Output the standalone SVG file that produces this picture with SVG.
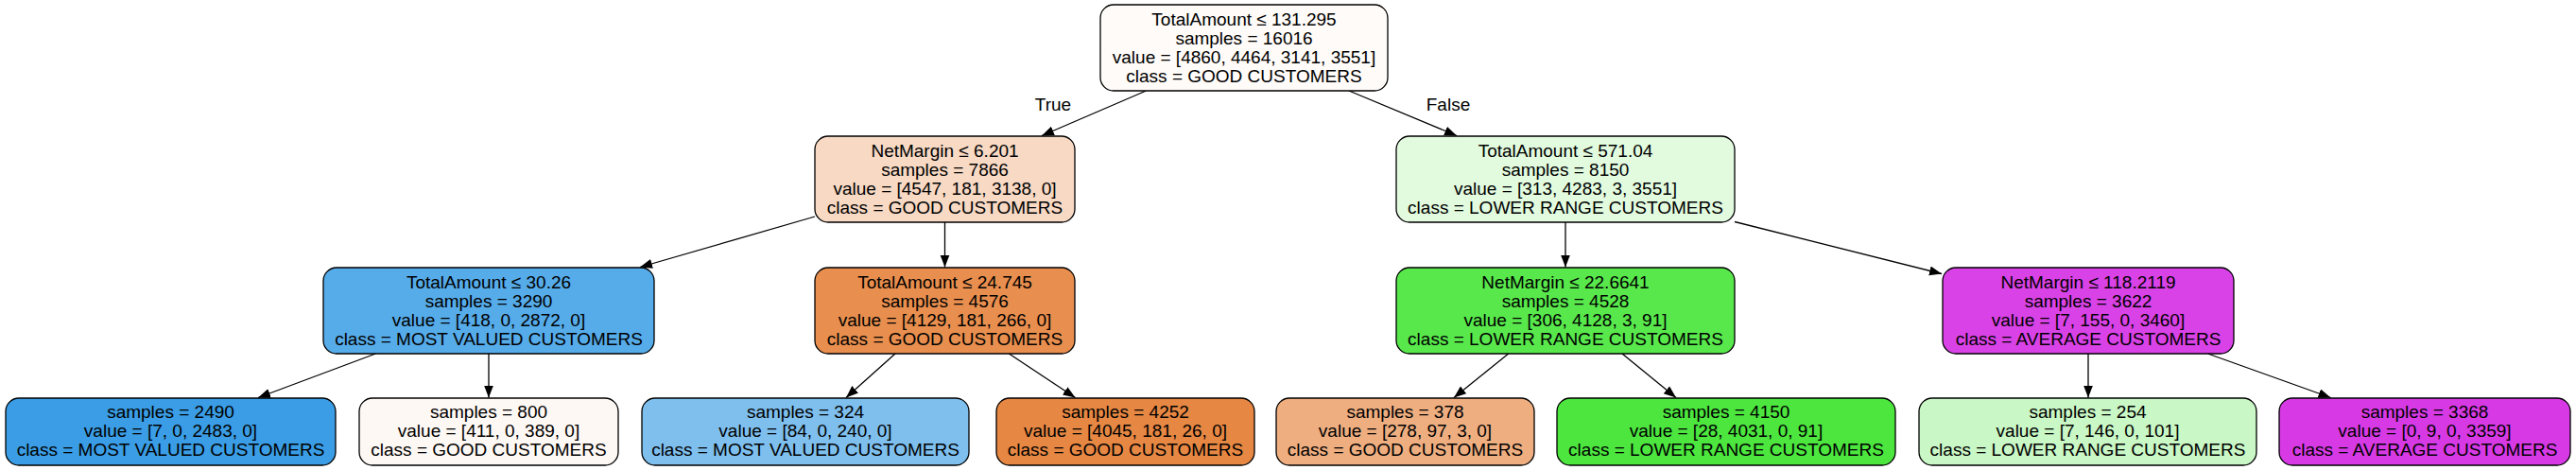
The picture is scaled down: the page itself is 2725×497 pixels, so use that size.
<svg xmlns="http://www.w3.org/2000/svg" width="2725" height="497" viewBox="0 0 2725 497">
<defs>
<style>
.node rect { stroke: #000; stroke-width: 1.3; }
text { font-family: "Liberation Sans", Arial, Helvetica, sans-serif; font-size: 19px; text-anchor: middle; fill: #000; }
.edges line { stroke: #000; stroke-width: 1.3; marker-end: url(#arr); }
</style>
<marker id="arr" markerUnits="userSpaceOnUse" markerWidth="14" markerHeight="11" refX="13" refY="5" orient="auto">
<path d="M0,0 L13,5 L0,10 z" fill="#000"/>
</marker>
</defs>
<rect width="2725" height="497" fill="#fff"/>
<g class="edges">
<line x1="1212.4" y1="96" x2="1102" y2="143.5"/>
<line x1="1427" y1="96" x2="1541" y2="143.5"/>
<line x1="862" y1="229" x2="677" y2="282.5"/>
<line x1="999.5" y1="235" x2="999.5" y2="282.5"/>
<line x1="1656" y1="235" x2="1656" y2="282.5"/>
<line x1="1835" y1="234.5" x2="2054" y2="289.5"/>
<line x1="397.4" y1="374" x2="273" y2="420.5"/>
<line x1="517" y1="374" x2="517" y2="420.5"/>
<line x1="947" y1="374" x2="895" y2="420.5"/>
<line x1="1067.4" y1="374" x2="1137.5" y2="420.5"/>
<line x1="1595.7" y1="374" x2="1538" y2="420.5"/>
<line x1="1716" y1="374" x2="1773" y2="420.5"/>
<line x1="2209" y1="374" x2="2209" y2="420.5"/>
<line x1="2335.6" y1="374" x2="2465.5" y2="420.5"/>
<text x="1114" y="117">True</text>
<text x="1532" y="117">False</text>
</g>
<g id="n0" class="node"><rect x="1164" y="5" width="304" height="91" rx="14" fill="#fefbf8"/>
<text x="1316" y="26.5">TotalAmount ≤ 131.295</text><text x="1316" y="46.5">samples = 16016</text><text x="1316" y="66.5">value = [4860, 4464, 3141, 3551]</text><text x="1316" y="86.5">class = GOOD CUSTOMERS</text></g>
<g id="n1" class="node"><rect x="862" y="144" width="275" height="91" rx="14" fill="#f7d9c4"/>
<text x="999.5" y="165.5">NetMargin ≤ 6.201</text><text x="999.5" y="185.5">samples = 7866</text><text x="999.5" y="205.5">value = [4547, 181, 3138, 0]</text><text x="999.5" y="225.5">class = GOOD CUSTOMERS</text></g>
<g id="n2" class="node"><rect x="342" y="283" width="350" height="91" rx="14" fill="#56abe9"/>
<text x="517" y="304.5">TotalAmount ≤ 30.26</text><text x="517" y="324.5">samples = 3290</text><text x="517" y="344.5">value = [418, 0, 2872, 0]</text><text x="517" y="364.5">class = MOST VALUED CUSTOMERS</text></g>
<g id="n3" class="node"><rect x="6" y="421" width="349" height="71" rx="14" fill="#3a9de5"/>
<text x="180.5" y="442">samples = 2490</text><text x="180.5" y="462">value = [7, 0, 2483, 0]</text><text x="180.5" y="482">class = MOST VALUED CUSTOMERS</text></g>
<g id="n4" class="node"><rect x="380" y="421" width="274" height="71" rx="14" fill="#fef8f4"/>
<text x="517" y="442">samples = 800</text><text x="517" y="462">value = [411, 0, 389, 0]</text><text x="517" y="482">class = GOOD CUSTOMERS</text></g>
<g id="n5" class="node"><rect x="862" y="283" width="275" height="91" rx="14" fill="#e88e4e"/>
<text x="999.5" y="304.5">TotalAmount ≤ 24.745</text><text x="999.5" y="324.5">samples = 4576</text><text x="999.5" y="344.5">value = [4129, 181, 266, 0]</text><text x="999.5" y="364.5">class = GOOD CUSTOMERS</text></g>
<g id="n6" class="node"><rect x="679" y="421" width="346" height="71" rx="14" fill="#7ebfee"/>
<text x="852" y="442">samples = 324</text><text x="852" y="462">value = [84, 0, 240, 0]</text><text x="852" y="482">class = MOST VALUED CUSTOMERS</text></g>
<g id="n7" class="node"><rect x="1054" y="421" width="273" height="71" rx="14" fill="#e68743"/>
<text x="1190.5" y="442">samples = 4252</text><text x="1190.5" y="462">value = [4045, 181, 26, 0]</text><text x="1190.5" y="482">class = GOOD CUSTOMERS</text></g>
<g id="n8" class="node"><rect x="1477" y="144" width="358" height="91" rx="14" fill="#e2fbdf"/>
<text x="1656" y="165.5">TotalAmount ≤ 571.04</text><text x="1656" y="185.5">samples = 8150</text><text x="1656" y="205.5">value = [313, 4283, 3, 3551]</text><text x="1656" y="225.5">class = LOWER RANGE CUSTOMERS</text></g>
<g id="n9" class="node"><rect x="1477" y="283" width="358" height="91" rx="14" fill="#58e84c"/>
<text x="1656" y="304.5">NetMargin ≤ 22.6641</text><text x="1656" y="324.5">samples = 4528</text><text x="1656" y="344.5">value = [306, 4128, 3, 91]</text><text x="1656" y="364.5">class = LOWER RANGE CUSTOMERS</text></g>
<g id="n10" class="node"><rect x="1350" y="421" width="273" height="71" rx="14" fill="#eeae80"/>
<text x="1486.5" y="442">samples = 378</text><text x="1486.5" y="462">value = [278, 97, 3, 0]</text><text x="1486.5" y="482">class = GOOD CUSTOMERS</text></g>
<g id="n11" class="node"><rect x="1647" y="421" width="358" height="71" rx="14" fill="#4ce63f"/>
<text x="1826" y="442">samples = 4150</text><text x="1826" y="462">value = [28, 4031, 0, 91]</text><text x="1826" y="482">class = LOWER RANGE CUSTOMERS</text></g>
<g id="n12" class="node"><rect x="2055" y="283" width="308" height="91" rx="14" fill="#d942e6"/>
<text x="2209" y="304.5">NetMargin ≤ 118.2119</text><text x="2209" y="324.5">samples = 3622</text><text x="2209" y="344.5">value = [7, 155, 0, 3460]</text><text x="2209" y="364.5">class = AVERAGE CUSTOMERS</text></g>
<g id="n13" class="node"><rect x="2030" y="421" width="357" height="71" rx="14" fill="#c9f7c5"/>
<text x="2208.5" y="442">samples = 254</text><text x="2208.5" y="462">value = [7, 146, 0, 101]</text><text x="2208.5" y="482">class = LOWER RANGE CUSTOMERS</text></g>
<g id="n14" class="node"><rect x="2411" y="421" width="308" height="71" rx="14" fill="#d73ae5"/>
<text x="2565" y="442">samples = 3368</text><text x="2565" y="462">value = [0, 9, 0, 3359]</text><text x="2565" y="482">class = AVERAGE CUSTOMERS</text></g>
</svg>
